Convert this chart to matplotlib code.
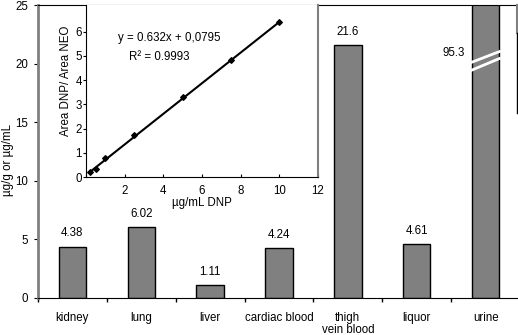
import matplotlib
matplotlib.use("Agg")
import matplotlib.pyplot as plt
from matplotlib.lines import Line2D

plt.rcParams['font.family'] = ['Liberation Sans', 'DejaVu Sans']

categories = ["kidney", "lung", "liver", "cardiac blood", "thigh\nvein blood", "liquor", "urine"]
values = [4.38, 6.02, 1.11, 4.24, 21.6, 4.61, 95.3]
value_labels = ["4.38", "6.02", "1.11", "4.24", "21.6", "4.61", "95.3"]

cal_x = [0.2, 0.5, 1, 2.5, 5, 7.5, 10]
cal_y = [0.2, 0.35, 0.78, 1.75, 3.3, 4.85, 6.4]
slope, intercept = 0.632, 0.0795
eq_text = "y = 0.632x + 0,0795"
r2_text = "R² = 0.9993"

W, H = 518, 335
fig = plt.figure(figsize=(W / 100, H / 100), dpi=100)
fs = 8.3

# main axes
ax = fig.add_axes([38 / W, (H - 298) / H, (520 - 38) / W, (298 - 5) / H])
xs = list(range(len(categories)))
ax.bar(xs, values, width=0.4, color="#808080", edgecolor="black", linewidth=1, zorder=2)
ax.set_xlim(-0.5, len(categories) - 0.5)
ax.set_ylim(0, 25)
ax.set_yticks([0, 5, 10, 15, 20, 25])
ax.set_xticks(xs)
ax.set_xticklabels(categories, fontsize=fs)
ax.set_xticks([i - 0.5 for i in range(len(categories) + 1)], minor=True)
ax.tick_params(axis="x", which="major", length=0, pad=10)
ax.tick_params(axis="x", which="minor", length=3, direction="out", width=1)
ax.tick_params(axis="y", length=3, direction="out", labelsize=fs, pad=4)
for lab in ax.get_xticklabels():
    lab.set_linespacing(1.05)
    lab.set_verticalalignment("top")
ax.spines["left"].set_color("#808080")
ax.spines["left"].set_linewidth(2)
ax.spines["right"].set_visible(False)
ax.spines["top"].set_color("black")
ax.spines["bottom"].set_color("black")
ax.set_ylabel("µg/g or µg/mL", fontsize=fs)
ax.yaxis.set_label_coords(-0.05, 0.47)

for i, (v, lab) in enumerate(zip(values, value_labels)):
    if v < 25:
        ax.annotate(lab, (i, v), xytext=(0, 9.5), textcoords="offset points",
                    ha="center", va="center", fontsize=fs)
    else:
        ax.text(i - 0.3, 20.9, lab, ha="right", va="center", fontsize=fs)
        # break marks
        ax.plot([i - 0.23, i + 0.22], [20.05, 21.07], color="white", lw=2, zorder=3,
                solid_capstyle="butt")
        ax.plot([i - 0.23, i + 0.22], [19.37, 20.48], color="white", lw=2, zorder=3,
                solid_capstyle="butt")

# clipped border pieces at right edge
fig.add_artist(Line2D([517 / W, 517 / W], [1 - 5 / H, 1 - 33 / H], color="#808080", lw=1.5))
fig.add_artist(Line2D([517 / W, 517 / W], [1 - 33 / H, 1 - 113 / H], color="black", lw=1))

# inset
ins = fig.add_axes([86 / W, (H - 177) / H, (318 - 86) / W, (177 - 5) / H])
ins.set_facecolor("white")
ins.scatter(cal_x, cal_y, s=8, color="black", marker="D", zorder=3)
lx = [min(cal_x), max(cal_x)]
ins.plot(lx, [slope * x + intercept for x in lx], color="black", lw=1.5)
ins.set_xlim(0, 12)
ins.set_ylim(0, 7.1)
ins.set_xticks([0, 2, 4, 6, 8, 10, 12])
ins.set_xticklabels(["", "2", "4", "6", "8", "10", "12"])
ins.set_yticks([0, 1, 2, 3, 4, 5, 6])
ins.tick_params(axis="x", length=2, direction="in", labelsize=fs, pad=6)
ins.tick_params(axis="y", length=2, direction="out", labelsize=fs, pad=1)
ins.spines["right"].set_color("#808080")
ins.spines["right"].set_linewidth(1.5)
ins.spines["top"].set_visible(False)
ins.set_xlabel("µg/mL DNP", fontsize=fs, labelpad=0)
ins.set_ylabel("Area DNP/ Area NEO", fontsize=fs)
ins.yaxis.set_label_coords(-0.06, 0.56)
ins.text(1.64, 5.74, eq_text, fontsize=fs, ha="left", va="center")
ins.text(2.2, 4.96, r2_text, fontsize=fs, ha="left", va="center")

fig.savefig("out.png", dpi=100)
